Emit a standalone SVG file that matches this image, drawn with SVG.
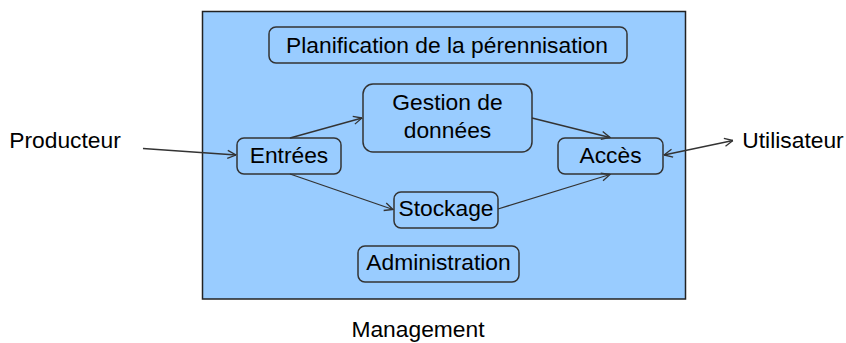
<svg xmlns="http://www.w3.org/2000/svg" width="846" height="343" viewBox="0 0 846 343">
<style>
.box{fill:#99CCFF;stroke:#333;stroke-width:1.5}
.t{font-family:"Liberation Sans",Arial,sans-serif;font-size:22.8px;fill:#000;text-anchor:middle}
.c{fill:none;stroke:#333;stroke-width:1.3}
</style>
<defs>
<marker id="ah" markerUnits="userSpaceOnUse" viewBox="0 0 10 10" refX="9.5" refY="5" markerWidth="10" markerHeight="10" orient="auto-start-reverse">
<path d="M1,1 L9.5,5 L1,9" fill="none" stroke="#333" stroke-width="1.3"/>
</marker>
</defs>
<g id="management">
<rect x="202.5" y="11.5" width="483" height="287.5" fill="#99CCFF" stroke="#222" stroke-width="1.5"/>
<text class="t" x="418" y="337">Management</text>
</g>
<g id="producteur"><text class="t" x="65" y="148">Producteur</text></g>
<g id="utilisateur"><text class="t" x="793" y="148">Utilisateur</text></g>
<g id="planification">
<rect class="box" x="269" y="27" width="358" height="36" rx="7"/>
<text class="t" x="447" y="53">Planification de la pérennisation</text>
</g>
<g id="gestion">
<rect class="box" x="363" y="84" width="169" height="68" rx="10"/>
<text class="t" x="447.5" y="110">Gestion de</text>
<text class="t" x="447.5" y="138">données</text>
</g>
<g id="entrees">
<rect class="box" x="237" y="138" width="104" height="36" rx="7"/>
<text class="t" x="289" y="163">Entrées</text>
</g>
<g id="acces">
<rect class="box" x="558" y="138" width="105" height="36" rx="7"/>
<text class="t" x="610.5" y="163">Accès</text>
</g>
<g id="stockage">
<rect class="box" x="394" y="192" width="104" height="36" rx="7"/>
<text class="t" x="446" y="216">Stockage</text>
</g>
<g id="administration">
<rect class="box" x="358" y="246" width="161" height="36" rx="7"/>
<text class="t" x="438.5" y="270">Administration</text>
</g>
<g id="connectors">
<line class="c" x1="143" y1="148.5" x2="236" y2="155" marker-end="url(#ah)"/>
<line class="c" x1="290" y1="138" x2="362" y2="118" marker-end="url(#ah)"/>
<line class="c" x1="532" y1="118" x2="610" y2="137.5" marker-end="url(#ah)"/>
<line class="c" x1="290" y1="174" x2="393" y2="209.5" marker-end="url(#ah)"/>
<line class="c" x1="498" y1="209" x2="610" y2="174.5" marker-end="url(#ah)"/>
<line class="c" x1="664" y1="155" x2="733" y2="140.5" marker-start="url(#ah)" marker-end="url(#ah)"/>
</g>
</svg>
